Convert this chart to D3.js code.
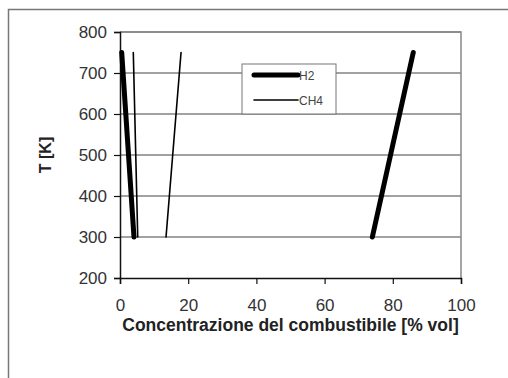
<!DOCTYPE html>
<html>
<head>
<meta charset="utf-8">
<script src="https://cdn.jsdelivr.net/npm/d3@7"></script>
<style>
  body { margin: 0; background: #fff; }
  svg { display: block; font-family: "Liberation Sans", Arial, sans-serif; }
</style>
</head>
<body>
<svg id="chart" width="508" height="378"></svg>
<script>
// flammability limits vs temperature
const seriesNames = ["H2", "CH4"];
const h2Lower = [[4.1, 300], [0.5, 750]];
const h2Upper = [[74, 300], [86, 750]];
const ch4Lower = [[5.2, 300], [3.9, 750]];
const ch4Upper = [[13.5, 300], [17.9, 750]];
const xTicks = [0, 20, 40, 60, 80, 100];
const yTicks = [200, 300, 400, 500, 600, 700, 800];

const W = 508;
const H = 378;
const margin = { left: 120, top: 32, right: 47, bottom: 100 };

const svg = d3.select("#chart");

// outer frame, only left/top edges show in the picture
svg.append("rect")
  .attr("x", 8.5).attr("y", 9.5)
  .attr("width", W + 20).attr("height", H + 20)
  .attr("fill", "none").attr("stroke", "#777").attr("stroke-width", 1.5);

const x = d3.scaleLinear().domain([0, 100]).range([margin.left, W - margin.right]);
const y = d3.scaleLinear().domain([200, 800]).range([H - margin.bottom, margin.top]);

// gridlines
svg.append("g")
  .selectAll("line")
  .data(yTicks.slice(1))
  .join("line")
  .attr("x1", x(0)).attr("x2", x(100))
  .attr("y1", (d) => y(d)).attr("y2", (d) => y(d))
  .attr("stroke", "#444").attr("stroke-width", 1);

// plot border (top/right)
svg.append("path")
  .attr("d", `M${x(0)},${y(800)}H${x(100)}V${y(200)}`)
  .attr("fill", "none").attr("stroke", "#888").attr("stroke-width", 1.5);

const yAxis = svg.append("g")
  .attr("transform", `translate(${x(0)},0)`)
  .call(d3.axisLeft(y).tickValues(yTicks).tickSize(6).tickPadding(7));
const xAxis = svg.append("g")
  .attr("transform", `translate(0,${y(200)})`)
  .call(d3.axisBottom(x).tickValues(xTicks).tickSize(6).tickPadding(15));

[xAxis, yAxis].forEach((g) => {
  g.select(".domain").attr("stroke", "#111").attr("stroke-width", 1.5);
  g.selectAll(".tick line").attr("stroke", "#111").attr("stroke-width", 1.2);
  g.selectAll(".tick text").attr("fill", "#333").style("font-size", "17px");
});

const line = d3.line().x((d) => x(d[0])).y((d) => y(d[1]));

const curves = [
  { data: h2Lower, width: 5 },
  { data: h2Upper, width: 5 },
  { data: ch4Lower, width: 1.6 },
  { data: ch4Upper, width: 1.6 }
];
svg.append("g")
  .selectAll("path")
  .data(curves)
  .join("path")
  .attr("d", (d) => line(d.data))
  .attr("fill", "none")
  .attr("stroke", "#000")
  .attr("stroke-width", (d) => d.width)
  .attr("stroke-linecap", "round");

// legend
const legend = svg.append("g").attr("transform", "translate(242,64)");
legend.append("rect")
  .attr("width", 94).attr("height", 50)
  .attr("fill", "#fff").attr("stroke", "#777").attr("stroke-width", 1);
legend.selectAll("g.item")
  .data(seriesNames)
  .join("g")
  .attr("class", "item")
  .attr("transform", (d, i) => `translate(0,${11 + i * 25})`)
  .each(function (d, i) {
    const g = d3.select(this);
    g.append("line")
      .attr("x1", 12).attr("x2", 56)
      .attr("stroke", "#000")
      .attr("stroke-width", i === 0 ? 5 : 1.6)
      .attr("stroke-linecap", "round");
    g.append("text")
      .attr("x", 57).attr("dy", "0.4em")
      .attr("fill", "#444")
      .style("font-size", "12px")
      .text(d);
  });

// axis titles
svg.append("text")
  .attr("x", (x(0) + x(100)) / 2)
  .attr("y", 331)
  .attr("text-anchor", "middle")
  .attr("fill", "#222")
  .style("font-size", "17.5px")
  .style("font-weight", "bold")
  .text("Concentrazione del combustibile [% vol]");

svg.append("text")
  .attr("transform", `translate(51,${(y(200) + y(800)) / 2}) rotate(-90)`)
  .attr("text-anchor", "middle")
  .attr("fill", "#222")
  .style("font-size", "16px")
  .style("font-weight", "bold")
  .text("T [K]");
</script>
</body>
</html>
